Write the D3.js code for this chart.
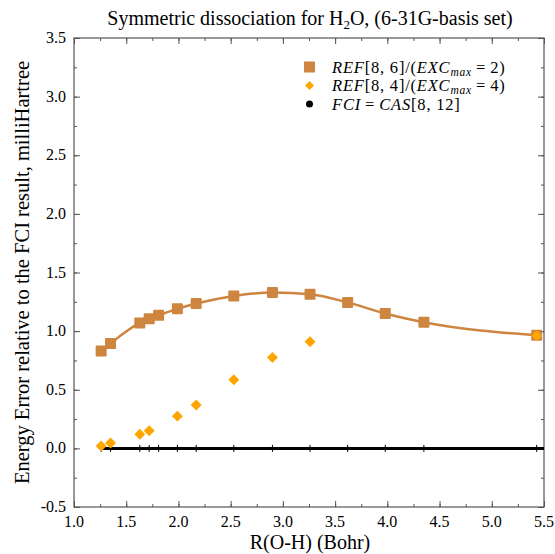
<!DOCTYPE html>
<html>
<head>
<meta charset="utf-8">
<script src="https://cdn.jsdelivr.net/npm/d3@7"></script>
<style>
  body { margin: 0; background: #fff; }
  text { font-family: "Liberation Serif", "DejaVu Serif", serif; fill: #000; }
</style>
</head>
<body>
<div id="chart"></div>
<script>
// R(O-H) in Bohr
const rRef86 = [1.26, 1.35, 1.63, 1.72, 1.81, 1.99, 2.17, 2.53, 2.90, 3.26, 3.62, 3.98, 4.35, 5.43];
const eRef86 = [0.83, 0.895, 1.07, 1.105, 1.135, 1.19, 1.235, 1.30, 1.33, 1.315, 1.245, 1.15, 1.075, 0.965];

const rRef84 = [1.26, 1.35, 1.63, 1.72, 1.99, 2.17, 2.53, 2.90, 3.26, 5.43];
const eRef84 = [0.02, 0.045, 0.12, 0.15, 0.275, 0.37, 0.585, 0.775, 0.91, 0.96];

const rFci = [1.26, 1.35, 1.63, 1.72, 1.81, 1.99, 2.17, 2.53, 2.90, 3.26, 3.62, 3.98, 4.35, 5.43, 5.5];
const eFci = rFci.map(() => 0);

const xTicks = [1.0, 1.5, 2.0, 2.5, 3.0, 3.5, 4.0, 4.5, 5.0, 5.5];
const yTicks = [-0.5, 0.0, 0.5, 1.0, 1.5, 2.0, 2.5, 3.0, 3.5];

const width = 555, height = 554;
const pl = 74, pr = 544, pt = 38, pb = 507;

const svg = d3.select("#chart").append("svg")
    .attr("width", width)
    .attr("height", height);

const x = d3.scaleLinear().domain([1.0, 5.5]).range([pl, pr]);
const y = d3.scaleLinear().domain([-0.5, 3.5]).range([pb, pt]);

const peru = "#cd853f";
const orange = "#ffa500";

svg.append("clipPath").attr("id", "clip")
  .append("rect").attr("x", pl).attr("y", pt)
  .attr("width", pr - pl).attr("height", pb - pt);

// Axes with inward ticks, mirrored on top and right
const minorX = d3.range(1.0, 5.5001, 0.25);
const minorY = d3.range(-0.5, 3.5001, 0.25);

function tickAxis(axis, scale, vals, size) {
  return axis(scale).tickValues(vals).tickSize(size).tickFormat("");
}

const gAx = svg.append("g").attr("class", "axes");

gAx.append("g").attr("transform", `translate(0,${pb})`)
  .call(tickAxis(d3.axisTop, x, minorX, 3));
gAx.append("g").attr("transform", `translate(0,${pb})`)
  .call(tickAxis(d3.axisTop, x, xTicks, 6));
gAx.append("g").attr("transform", `translate(0,${pt})`)
  .call(tickAxis(d3.axisBottom, x, minorX, 3));
gAx.append("g").attr("transform", `translate(0,${pt})`)
  .call(tickAxis(d3.axisBottom, x, xTicks, 6));
gAx.append("g").attr("transform", `translate(${pl},0)`)
  .call(tickAxis(d3.axisRight, y, minorY, 3));
gAx.append("g").attr("transform", `translate(${pl},0)`)
  .call(tickAxis(d3.axisRight, y, yTicks, 6));
gAx.append("g").attr("transform", `translate(${pr},0)`)
  .call(tickAxis(d3.axisLeft, y, minorY, 3));
gAx.append("g").attr("transform", `translate(${pr},0)`)
  .call(tickAxis(d3.axisLeft, y, yTicks, 6));

gAx.selectAll(".domain").remove();
gAx.selectAll("line").attr("stroke", "#555").attr("stroke-width", 1);

svg.append("rect")
  .attr("x", pl).attr("y", pt)
  .attr("width", pr - pl).attr("height", pb - pt)
  .attr("fill", "none").attr("stroke", "#555").attr("stroke-width", 1.2);

// tick labels
svg.append("g").selectAll("text")
  .data(xTicks).join("text")
  .attr("x", d => x(d)).attr("y", pb + 20)
  .attr("text-anchor", "middle")
  .attr("font-size", 16)
  .text(d => d.toFixed(1));

svg.append("g").selectAll("text")
  .data(yTicks).join("text")
  .attr("x", pl - 8).attr("y", d => y(d) + 5)
  .attr("text-anchor", "end")
  .attr("font-size", 16)
  .text(d => d.toFixed(1));

// title
const title = svg.append("text")
  .attr("x", (pl + pr) / 2 + 1).attr("y", 25)
  .attr("text-anchor", "middle")
  .attr("font-size", 20);
title.append("tspan").text("Symmetric dissociation for H");
title.append("tspan").attr("font-size", 13).attr("dy", 4).text("2");
title.append("tspan").attr("dy", -4).text("O, (6-31G-basis set)");

// axis labels
svg.append("text")
  .attr("x", (pl + pr) / 2 + 1).attr("y", 549)
  .attr("text-anchor", "middle")
  .attr("font-size", 20)
  .text("R(O-H) (Bohr)");

svg.append("text")
  .attr("transform", `translate(29,${(pt + pb) / 2}) rotate(-90)`)
  .attr("text-anchor", "middle")
  .attr("font-size", 20.5)
  .text("Energy Error relative to the FCI result, milliHartree");

const plot = svg.append("g").attr("clip-path", "url(#clip)");

// FCI line with small markers
const fci = rFci.map((r, i) => [r, eFci[i]]);
plot.append("path")
  .datum(fci)
  .attr("fill", "none")
  .attr("stroke", "#000")
  .attr("stroke-width", 3)
  .attr("d", d3.line().x(d => x(d[0])).y(d => y(d[1])));
plot.append("g").selectAll("line")
  .data(fci.slice(0, -1)).join("line")
  .attr("x1", d => x(d[0])).attr("x2", d => x(d[0]))
  .attr("y1", d => y(d[1]) - 3.5).attr("y2", d => y(d[1]) + 3.5)
  .attr("stroke", "#000").attr("stroke-width", 1);

// REF[8,6] curve + squares
const ref86 = rRef86.map((r, i) => [r, eRef86[i]]);
plot.append("path")
  .datum(ref86)
  .attr("fill", "none")
  .attr("stroke", peru)
  .attr("stroke-width", 2.5)
  .attr("d", d3.line().curve(d3.curveMonotoneX).x(d => x(d[0])).y(d => y(d[1])));

const sq = 11;
svg.append("g").selectAll("rect")
  .data(ref86).join("rect")
  .attr("x", d => x(d[0]) - sq / 2).attr("y", d => y(d[1]) - sq / 2)
  .attr("width", sq).attr("height", sq).attr("rx", 1)
  .attr("fill", peru);

// REF[8,4] diamonds
const ref84 = rRef84.map((r, i) => [r, eRef84[i]]);
svg.append("g").selectAll("path")
  .data(ref84).join("path")
  .attr("transform", d => `translate(${x(d[0])},${y(d[1])}) rotate(45)`)
  .attr("d", d3.symbol().type(d3.symbolSquare).size(60))
  .attr("fill", orange);

// legend
const legend = svg.append("g");
const legendRows = [
  { kind: "square", segs: [["REF", 1], ["[8, 6]/(", 0], ["EXC", 1], ["max", 2], ["\u2009=\u20092)", 0]] },
  { kind: "diamond", segs: [["REF", 1], ["[8, 4]/(", 0], ["EXC", 1], ["max", 2], ["\u2009=\u20094)", 0]] },
  { kind: "dot", segs: [["FCI", 1], ["\u2009=\u2009", 0], ["CAS", 1], ["[8, 12]", 0]] }
];
legendRows.forEach((row, i) => {
  const cy = 67 + i * 18.5;
  if (row.kind === "square") {
    legend.append("rect").attr("x", 304).attr("y", cy - 5.5)
      .attr("width", 11).attr("height", 11).attr("fill", peru);
  } else if (row.kind === "diamond") {
    legend.append("path").attr("transform", `translate(309.5,${cy}) rotate(45)`)
      .attr("d", d3.symbol().type(d3.symbolSquare).size(40)).attr("fill", orange);
  } else {
    legend.append("circle").attr("cx", 309.5).attr("cy", cy).attr("r", 3.5).attr("fill", "#000");
  }
  const t = legend.append("text").attr("x", 332).attr("y", cy + 5.5)
    .attr("font-size", 16.5).attr("letter-spacing", 0.8);
  row.segs.forEach(([s, k], j) => {
    const ts = t.append("tspan").text(s);
    if (k === 1) ts.attr("font-style", "italic");
    if (k === 2) ts.attr("font-style", "italic").attr("font-size", 11.5).attr("dy", 3);
    if (k === 0 && j > 0 && row.segs[j - 1][1] === 2) ts.attr("dy", -3);
  });
});
</script>
</body>
</html>
